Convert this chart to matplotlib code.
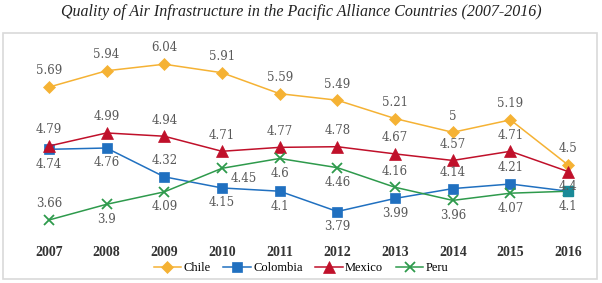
import matplotlib.pyplot as plt
from matplotlib.patches import Rectangle
from matplotlib.lines import Line2D

years = ['2007', '2008', '2009', '2010', '2011', '2012', '2013', '2014', '2015', '2016']
chile = [5.69, 5.94, 6.04, 5.91, 5.59, 5.49, 5.21, 5.00, 5.19, 4.50]
colombia = [4.74, 4.76, 4.32, 4.15, 4.10, 3.79, 3.99, 4.14, 4.21, 4.10]
mexico = [4.79, 4.99, 4.94, 4.71, 4.77, 4.78, 4.67, 4.57, 4.71, 4.40]
peru = [3.66, 3.90, 4.09, 4.45, 4.60, 4.46, 4.16, 3.96, 4.07, 4.10]

# label placement per point: 'a' above, 'b' below, 'r' right, '' none
colombia_pos = ['b', 'b', 'a', 'b', 'b', 'b', 'b', 'a', 'a', 'b']
mexico_pos = ['a', 'a', 'a', 'a', 'a', 'a', 'a', 'a', 'a', 'b']
peru_pos = ['a', 'b', 'b', 'r', 'b', 'b', 'a', 'b', 'b', '']

serif = 'Liberation Serif'
label_font = 'DejaVu Serif'
label_color = '#595959'

fig = plt.figure(figsize=(6.02, 2.83), dpi=100)
fig.patch.set_facecolor('white')

# frame around chart area
fig.patches.append(Rectangle((3 / 602, 4 / 283), 594 / 602, 246 / 283,
                             transform=fig.transFigure, fill=False,
                             edgecolor='#d9d9d9', linewidth=1.2))

fig.text(0.5, 1 - 12 / 283, 'Quality of Air Infrastructure in the Pacific Alliance Countries (2007-2016)',
         ha='center', va='center', fontsize=11.5, style='italic', family=serif, color='#222222')

ax = fig.add_axes([20 / 602, 1 - 232 / 283, 577 / 602, 192 / 283])
x = list(range(len(years)))

series = [
    ('Chile', chile, '#f5b234', 'D', 6, None),
    ('Colombia', colombia, '#2070c0', 's', 7, colombia_pos),
    ('Mexico', mexico, '#c0102a', '^', 8, mexico_pos),
    ('Peru', peru, '#2e9a4c', 'x', 7, peru_pos),
]

for name, vals, col, mk, ms, pos in series:
    ax.plot(x, vals, color=col, linewidth=1.1, marker=mk, markersize=ms,
            markeredgewidth=1.3 if mk == 'x' else 0.5, markeredgecolor=col, label=name)
    for i, v in enumerate(vals):
        p = 'a' if pos is None else pos[i]
        if p == '':
            continue
        txt = f'{v:g}'
        kw = dict(textcoords='offset points', fontsize=8.5, family=label_font, color=label_color)
        if p == 'a':
            ax.annotate(txt, (i, v), xytext=(0, 7), ha='center', va='bottom', **kw)
        elif p == 'b':
            ax.annotate(txt, (i, v), xytext=(0, -6), ha='center', va='top', **kw)
        else:
            ax.annotate(txt, (i, v), xytext=(6, -3), ha='left', va='top', **kw)

# overlapping Colombia/Peru marker in 2016 shows as teal
ax.plot([9], [colombia[9]], marker='s', markersize=7, color='#1a8a98', linestyle='none')

ax.set_xlim(-0.5, len(years) - 0.5)
ax.set_ylim(3.477, 6.41)
ax.set_xticks(x)
ax.set_xticklabels(years, fontsize=10, family=serif, fontweight='bold', color='#333333')
ax.tick_params(axis='x', length=0, pad=10)
ax.set_yticks([])
for s in ax.spines.values():
    s.set_visible(False)

handles = [Line2D([0], [0], color=c, marker=m, markersize=ms, linewidth=1.1,
                  markeredgewidth=1.3 if m == 'x' else 0.5, markeredgecolor=c)
           for _, _, c, m, ms, _ in series]
fig.legend(handles, [s[0] for s in series], loc='center', bbox_to_anchor=(0.5, 1 - 268 / 283),
           ncol=4, frameon=False, prop={'family': serif, 'size': 9},
           handlelength=2.2, handletextpad=0.2, columnspacing=1.0)

fig.savefig('out.png', dpi=100, facecolor='white')
